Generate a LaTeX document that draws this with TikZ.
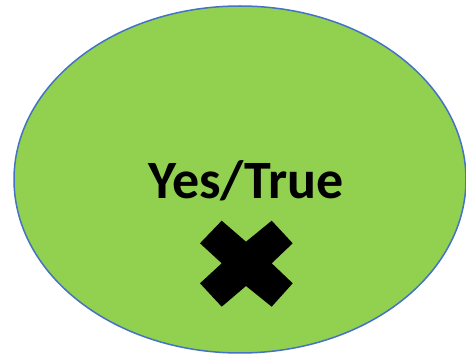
\documentclass[tikz,border=0pt]{standalone}
\usepackage{fontspec}
\setmainfont{Carlito}
\usetikzlibrary{shapes.geometric}
\definecolor{ovalgreen}{HTML}{92D050}
\definecolor{ovalblue}{HTML}{4472C4}
\tikzset{
  oval/.style={ellipse, draw=ovalblue, fill=ovalgreen, line width=1.5pt, inner sep=0pt},
  label/.style={font=\fontsize{54}{58}\selectfont\bfseries, text=black, inner sep=0pt},
  cross/.style={fill=black, draw=none}
}
\begin{document}
\begin{tikzpicture}[x=1pt,y=-1pt]
\useasboundingbox (0,0) rectangle (466,355);
\node[oval, minimum width=452pt, minimum height=347pt] (oval) at (240,179.5) {};
\node[label, anchor=base] (txt) at (246,199) {Yes/True};
\fill[cross] (221.7,220.7) -- (246,241.7) -- (271.7,220.7) -- (292.7,243.3) -- (271.7,263.3) -- (292.7,283.3) -- (271.7,306.7) -- (246,286) -- (221.7,306.7) -- (200,283.3) -- (221.7,263.3) -- (200,243.3) -- cycle;
\end{tikzpicture}
\end{document}
